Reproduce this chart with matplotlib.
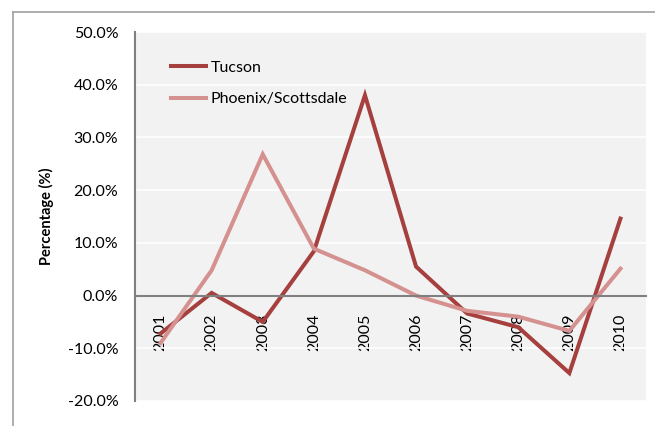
import matplotlib
matplotlib.use("Agg")
import matplotlib.pyplot as plt
from matplotlib.lines import Line2D
from matplotlib.ticker import FuncFormatter

YEARS = ["2001", "2002", "2003", "2004", "2005", "2006", "2007", "2008", "2009", "2010"]
TUCSON = [-7.2, 0.5, -5.0, 8.4, 38.0, 5.5, -3.4, -6.0, -14.7, 14.6]
PHOENIX = [-9.0, 4.8, 26.8, 8.9, 4.8, 0.0, -2.9, -4.0, -6.7, 5.1]
Y_TICKS = [-20, -10, 0, 10, 20, 30, 40, 50]

TUCSON_COLOR = "#A5403E"
PHOENIX_COLOR = "#D4918F"
AXIS_GRAY = "#808080"

plt.rcParams['font.family'] = ['Lato', 'DejaVu Sans']

W, H = 655, 426
fig = plt.figure(figsize=(W / 100, H / 100), dpi=100)
# plot area in pixel terms: x 135..646, y 32..401
ax = fig.add_axes([135 / W, 1 - 401 / H, (646 - 135) / W, (401 - 32) / H])
ax.set_facecolor("#F2F2F2")

x = list(range(len(YEARS)))
ax.plot(x, TUCSON, color=TUCSON_COLOR, lw=2.9, label="Tucson", solid_joinstyle="miter")
ax.plot(x, PHOENIX, color=PHOENIX_COLOR, lw=2.9, label="Phoenix/Scottsdale", solid_joinstyle="miter")

ax.set_xlim(-0.5, len(YEARS) - 0.5)
ax.set_ylim(-20, 50)
ax.set_yticks(Y_TICKS)
ax.yaxis.set_major_formatter(FuncFormatter(lambda v, _: "{:.1f}%".format(v)))
ax.yaxis.grid(True, color="white", lw=1.2)
ax.set_axisbelow(True)

for side in ["top", "right"]:
    ax.spines[side].set_visible(False)
ax.spines["left"].set_color(AXIS_GRAY)
ax.spines["left"].set_linewidth(1.5)
ax.spines["bottom"].set_position(("data", 0))
ax.spines["bottom"].set_color(AXIS_GRAY)
ax.spines["bottom"].set_linewidth(1.5)

ax.set_xticks(x)
ax.set_xticklabels(YEARS, rotation=90, fontsize=11.5)
ax.tick_params(axis="x", length=0, pad=13)
ax.tick_params(axis="y", length=0, pad=12, labelsize=11.5)

ax.set_ylabel("Percentage (%)", fontsize=10.5, fontweight="bold", labelpad=10)

ax.legend(loc="upper left", bbox_to_anchor=(0.058, 0.94), frameon=False,
          fontsize=11.5, handlelength=2.2, handletextpad=0.3, labelspacing=1.1,
          borderaxespad=0)

# outer chart border (partly cropped in the reference)
fig.add_artist(Line2D([13 / W, 13 / W], [0, 1 - 12 / H], color="#A0A0A0", lw=1.2))
fig.add_artist(Line2D([13 / W, 1], [1 - 12 / H, 1 - 12 / H], color="#A0A0A0", lw=1.2))

fig.savefig("out.png", dpi=100)
